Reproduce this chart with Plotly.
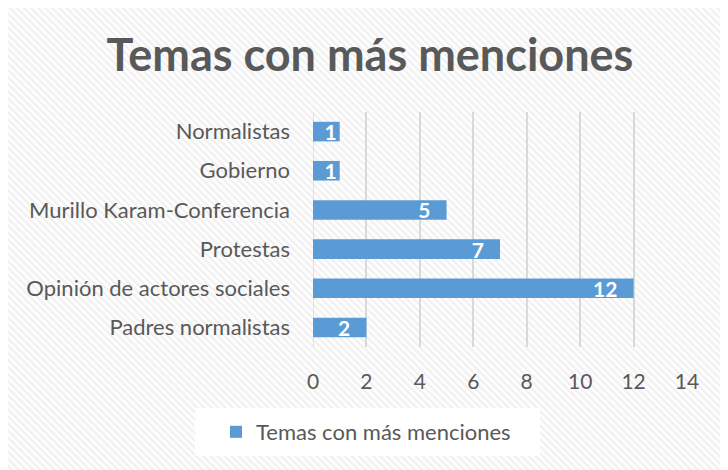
import base64
import plotly.graph_objects as go

""" Data """
temas = [
    "Padres normalistas",
    "Opinión de actores sociales",
    "Protestas",
    "Murillo Karam-Conferencia",
    "Gobierno",
    "Normalistas",
]
menciones = [2, 12, 7, 5, 1, 1]
x_ticks = [0, 2, 4, 6, 8, 10, 12, 14]

""" Layout helpers """
# the page shows the figure with an 8px body offset, so work in screen pixels
OFF = 8
W, H = 728, 470
LEFT, RIGHT, TOP, BOTTOM = 313, 687, 112, 347
ML, MR = LEFT - OFF, W - (RIGHT - OFF)
MT, MB = TOP - OFF, H - (BOTTOM - OFF)
PW, PH = RIGHT - LEFT, BOTTOM - TOP


def px_x(x):
    return (x - LEFT) / PW


def px_y(y):
    return (BOTTOM - y) / PH


GRAY = "#595959"
BLUE = "#5B9BD5"
FONT = "Lato, 'Open Sans', sans-serif"

# labels sit a little in from the bar end, except where the bar is too short
labels = [f"{v}\u2002\u2009" if v > 1 else str(v) for v in menciones]

# diagonal hatch texture for the chart background
hatch = (
    '<svg xmlns="http://www.w3.org/2000/svg" width="728" height="470">'
    '<defs><pattern id="p" width="5" height="5" patternUnits="userSpaceOnUse" '
    'patternTransform="rotate(-45)">'
    '<rect width="5" height="5" fill="#ffffff"/>'
    '<rect width="2.5" height="5" fill="#f1f1f1"/></pattern></defs>'
    '<rect width="728" height="470" fill="url(#p)"/></svg>'
)
hatch_src = "data:image/svg+xml;base64," + base64.b64encode(hatch.encode()).decode()

fig = go.Figure(
    go.Bar(
        y=temas,
        x=menciones,
        orientation="h",
        name="Temas con más menciones",
        marker=dict(color=BLUE, line=dict(width=0)),
        width=0.5,
        text=labels,
        textposition="inside",
        insidetextanchor="end",
        textangle=0,
        textfont=dict(color="white", size=21, family=FONT, weight="bold"),
        constraintext="none",
        cliponaxis=False,
    )
)

fig.update_layout(
    width=W,
    height=H,
    margin=dict(l=ML, r=MR, t=MT, b=MB, autoexpand=False),
    paper_bgcolor="white",
    plot_bgcolor="rgba(0,0,0,0)",
    font=dict(family=FONT, color=GRAY, size=21),
    uniformtext=dict(minsize=21, mode="show"),
    title=dict(
        text="<b>Temas con más menciones</b>",
        font=dict(size=45, color=GRAY, family=FONT),
        x=(370 - OFF) / W,
        xanchor="center",
        y=1 - (55 - OFF) / H,
        yanchor="middle",
    ),
    xaxis=dict(
        range=[0, 14],
        tickvals=x_ticks,
        showgrid=True,
        gridcolor="#d9d9d9",
        gridwidth=1.5,
        zeroline=False,
        showline=False,
        ticks="",
        ticklabelstandoff=20,
        automargin=False,
        tickfont=dict(size=21, color=GRAY),
    ),
    yaxis=dict(
        showgrid=False,
        ticks="",
        ticklabelstandoff=22,
        automargin=False,
        tickfont=dict(size=22, color=GRAY),
    ),
    showlegend=True,
    legend=dict(
        orientation="h",
        x=px_x(366),
        xanchor="center",
        y=px_y(432),
        yanchor="middle",
        bgcolor="rgba(0,0,0,0)",
        font=dict(size=22, color=GRAY),
        itemwidth=30,
    ),
    images=[
        dict(
            source=hatch_src,
            xref="paper",
            yref="paper",
            x=px_x(OFF),
            y=px_y(OFF),
            sizex=W / PW,
            sizey=H / PH,
            xanchor="left",
            yanchor="top",
            sizing="stretch",
            layer="below",
        )
    ],
    shapes=[
        # outer chart border
        dict(
            type="rect", xref="paper", yref="paper",
            x0=px_x(6), x1=px_x(760), y0=px_y(2), y1=px_y(500),
            line=dict(color="#d9d9d9", width=2), layer="below",
        ),
        # legend box
        dict(
            type="rect", xref="paper", yref="paper",
            x0=px_x(195), x1=px_x(540), y0=px_y(408), y1=px_y(456),
            fillcolor="white", line=dict(width=0), layer="below",
        ),
        dict(
            type="line", xref="x", yref="paper", x0=0, x1=0, y0=0, y1=1,
            line=dict(color="#d9d9d9", width=1.5), layer="below",
        ),
    ],
)

fig.write_html("out.html")
